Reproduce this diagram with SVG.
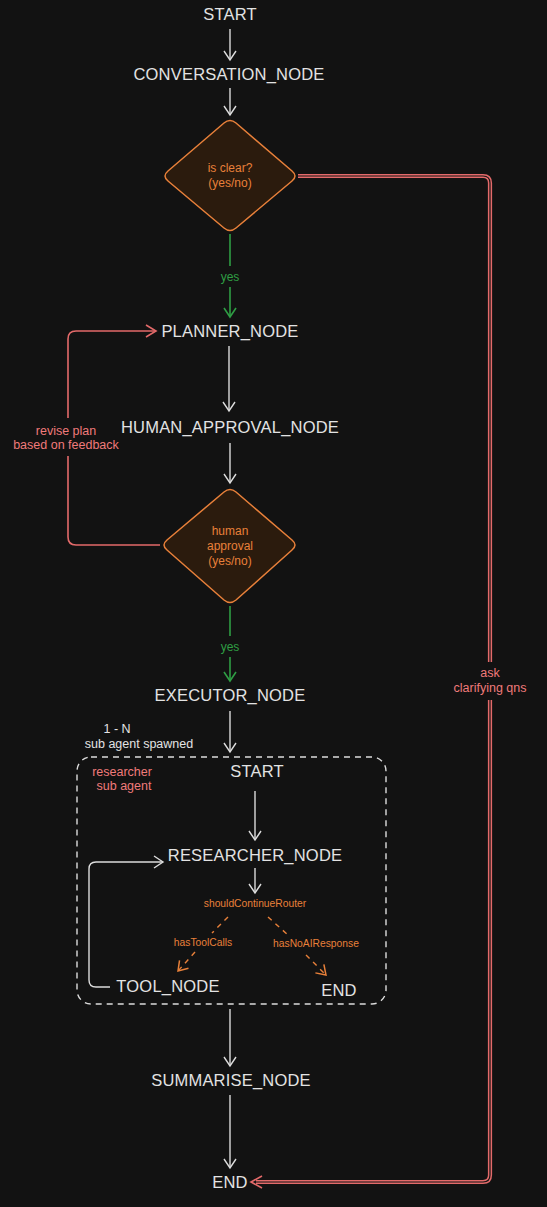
<svg xmlns="http://www.w3.org/2000/svg" width="547" height="1207" viewBox="0 0 547 1207">
<style>
.n{font-family:"Liberation Sans",Arial,sans-serif;font-size:16.5px;fill:#e3e3e3;text-anchor:middle;letter-spacing:0.2px}
.o{font-family:"Liberation Sans",Arial,sans-serif;font-size:12px;fill:#e8803a;text-anchor:middle}
.os{font-family:"Liberation Sans",Arial,sans-serif;font-size:10.3px;fill:#e8803a;text-anchor:middle}
.r{font-family:"Liberation Sans",Arial,sans-serif;font-size:12.5px;fill:#f07a7a;text-anchor:middle}
.w{font-family:"Liberation Sans",Arial,sans-serif;font-size:12.5px;fill:#e3e3e3;text-anchor:middle}
.g{font-family:"Liberation Sans",Arial,sans-serif;font-size:12px;fill:#2f9e44;text-anchor:middle}
.lw{fill:none;stroke:#dcdcdc;stroke-width:1.4}
.lg{fill:none;stroke:#2f9e44;stroke-width:1.6}
.lr{fill:none;stroke:#e36a6a;stroke-width:1.6}
.lo{fill:none;stroke:#e8803a;stroke-width:1.4;stroke-dasharray:5 5}
.dia{fill:#2b1b0d;stroke:#e8803a;stroke-width:1.5}
</style>
<defs>
<marker id="aw" markerWidth="14" markerHeight="14" refX="10" refY="7" orient="auto" markerUnits="userSpaceOnUse"><path d="M1,1 L10,7 L1,13" fill="none" stroke="#dcdcdc" stroke-width="1.4"/></marker>
<marker id="ag" markerWidth="14" markerHeight="14" refX="10" refY="7" orient="auto" markerUnits="userSpaceOnUse"><path d="M1,1 L10,7 L1,13" fill="none" stroke="#2f9e44" stroke-width="1.6"/></marker>
<marker id="ar" markerWidth="16" markerHeight="16" refX="11" refY="8" orient="auto" markerUnits="userSpaceOnUse"><path d="M1,2 L11,8 L1,14" fill="none" stroke="#e36a6a" stroke-width="1.6"/></marker>
<marker id="ao" markerWidth="14" markerHeight="14" refX="10" refY="7" orient="auto" markerUnits="userSpaceOnUse"><path d="M1,1 L10,7 L1,13" fill="none" stroke="#e8803a" stroke-width="1.5"/></marker>
</defs>
<rect width="547" height="1207" fill="#121212"/>

<g id="connectors">
<line class="lw" x1="230" y1="29" x2="230" y2="60" marker-end="url(#aw)"/>
<line class="lw" x1="230" y1="88" x2="230" y2="115" marker-end="url(#aw)"/>
<line class="lg" x1="230" y1="234" x2="230" y2="266"/>
<line class="lg" x1="230" y1="287" x2="230" y2="317" marker-end="url(#ag)"/>
<line class="lw" x1="229" y1="346" x2="229" y2="411" marker-end="url(#aw)"/>
<line class="lw" x1="230" y1="443" x2="230" y2="483" marker-end="url(#aw)"/>
<line class="lg" x1="230" y1="606" x2="230" y2="636"/>
<line class="lg" x1="230" y1="657" x2="230" y2="681" marker-end="url(#ag)"/>
<line class="lw" x1="230" y1="711" x2="230" y2="752" marker-end="url(#aw)"/>
<line class="lw" x1="255" y1="791" x2="255" y2="840" marker-end="url(#aw)"/>
<line class="lw" x1="255" y1="868" x2="255" y2="893" marker-end="url(#aw)"/>
<line class="lo" x1="228" y1="917" x2="212" y2="933"/>
<line class="lo" x1="195" y1="952" x2="178" y2="971" marker-end="url(#ao)"/>
<line class="lo" x1="268" y1="917" x2="288" y2="935"/>
<line class="lo" x1="306" y1="955" x2="326" y2="975" marker-end="url(#ao)"/>
<path class="lw" d="M110,987 L96,987 Q89,987 89,980 L89,869 Q89,862 96,862 L163,862" marker-end="url(#aw)"/>
<line class="lw" x1="230" y1="1009" x2="230" y2="1066" marker-end="url(#aw)"/>
<line class="lw" x1="230" y1="1095" x2="230" y2="1168" marker-end="url(#aw)"/>
<path class="lr" d="M160,545 L76,545 Q68,545 68,537 L68,456"/>
<path class="lr" d="M68,418 L68,339 Q68,331 76,331 L156,331" marker-end="url(#ar)"/>
<path d="M298,176 L483,176 Q490,176 490,183 L490,662" fill="none" stroke="#e36a6a" stroke-width="4.2"/>
<path d="M298,176 L483,176 Q490,176 490,183 L490,662" fill="none" stroke="#121212" stroke-width="1.2"/>
<path d="M490,700 L490,1175 Q490,1182 483,1182 L256,1182" fill="none" stroke="#e36a6a" stroke-width="4.2"/>
<path d="M490,700 L490,1175 Q490,1182 483,1182 L256,1182" fill="none" stroke="#121212" stroke-width="1.2"/>
<path class="lr" d="M262,1176 L251,1182 L262,1188"/>
</g>

<g id="start"><text class="n" x="230" y="20">START</text></g>
<g id="conversation_node"><text class="n" x="229" y="80">CONVERSATION_NODE</text></g>
<g id="is_clear">
<path class="dia" d="M236,123 L292,171 Q298,176 292,181 L236,228 Q230,233 224,228 L168,181 Q162,176 168,171 L224,123 Q230,118 236,123 Z"/>
<text class="o" x="230" y="172">is clear?</text>
<text class="o" x="230" y="187">(yes/no)</text>
</g>
<text class="g" x="230" y="281">yes</text>
<g id="planner_node"><text class="n" x="230" y="337">PLANNER_NODE</text></g>
<g id="human_approval_node"><text class="n" x="230" y="433">HUMAN_APPROVAL_NODE</text></g>
<g id="human_approval">
<path class="dia" d="M236,492 L292,540 Q298,545 292,550 L236,600 Q230,605 224,600 L167,550 Q161,545 167,540 L224,492 Q230,487 236,492 Z"/>
<text class="o" x="230" y="535">human</text>
<text class="o" x="230" y="550">approval</text>
<text class="o" x="230" y="565">(yes/no)</text>
</g>
<text class="g" x="230" y="651">yes</text>
<text class="r" x="66" y="435">revise plan</text>
<text class="r" x="66" y="449">based on feedback</text>
<text class="r" x="490" y="677">ask</text>
<text class="r" x="490" y="692">clarifying qns</text>
<g id="executor_node"><text class="n" x="230" y="701">EXECUTOR_NODE</text></g>
<text class="w" x="117" y="733">1 - N</text>
<text class="w" x="139" y="748">sub agent spawned</text>

<g id="researcher_sub_agent">
<rect x="77" y="757" width="309" height="247" rx="14" fill="none" stroke="#dcdcdc" stroke-width="1.4" stroke-dasharray="6 5"/>
<text class="r" x="122" y="776">researcher</text>
<text class="r" x="124" y="790">sub agent</text>
</g>
<g id="sub_start"><text class="n" x="257" y="777">START</text></g>
<g id="researcher_node"><text class="n" x="255" y="861">RESEARCHER_NODE</text></g>
<g id="router"><text class="os" x="255" y="907">shouldContinueRouter</text></g>
<text class="os" x="203" y="946">hasToolCalls</text>
<text class="os" x="316" y="947">hasNoAIResponse</text>
<g id="tool_node"><text class="n" x="168" y="992">TOOL_NODE</text></g>
<g id="sub_end"><text class="n" x="339" y="996">END</text></g>
<g id="summarise_node"><text class="n" x="231" y="1086">SUMMARISE_NODE</text></g>
<g id="end"><text class="n" x="230" y="1188">END</text></g>
</svg>
